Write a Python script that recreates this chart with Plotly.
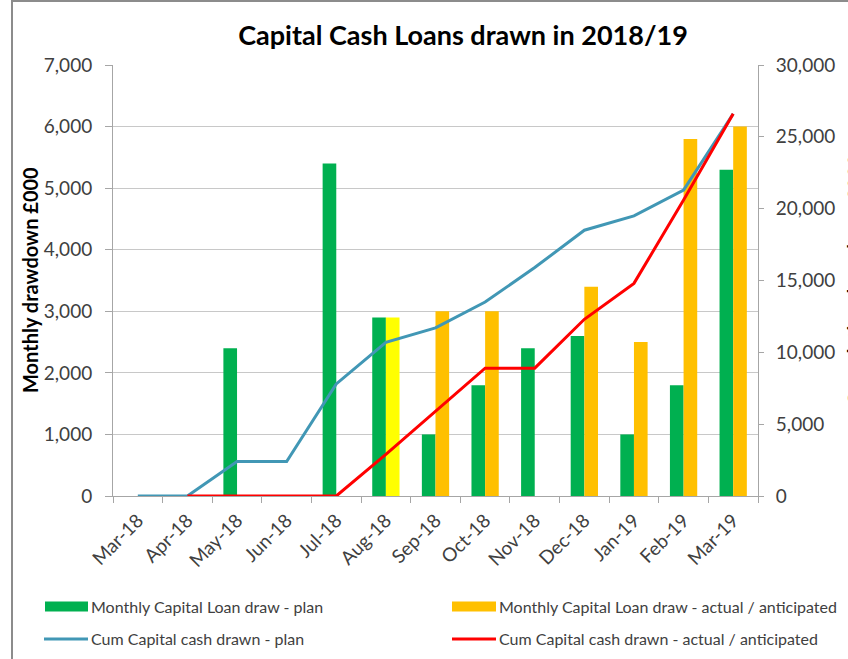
import plotly.graph_objects as go

months = ["Mar-18", "Apr-18", "May-18", "Jun-18", "Jul-18", "Aug-18", "Sep-18",
          "Oct-18", "Nov-18", "Dec-18", "Jan-19", "Feb-19", "Mar-19"]
plan_monthly = [0, 0, 2400, 0, 5400, 2900, 1000, 1800, 2400, 2600, 1000, 1800, 5300]
actual_monthly = [0, 0, 0, 0, 0, 2900, 3000, 3000, 0, 3400, 2500, 5800, 6000]
actual_colors = ["#FFC000"] * 5 + ["#FFFF00"] + ["#FFC000"] * 7
cum_plan = [0, 0, 2400, 2400, 7800, 10700, 11700, 13500, 15900, 18500, 19500, 21300, 26600]
cum_actual = [None, 0, 0, 0, 0, 2900, 5900, 8900, 8900, 12300, 14800, 20600, 26600]

left_ticks = list(range(0, 7001, 1000))
right_ticks = list(range(0, 30001, 5000))

W, H = 848, 659
ML, MR, MT, MB = 113, 90, 65, 163
PW, PH = W - ML - MR, H - MT - MB

def px(x):
    return (x - ML) / PW

def py(y):
    return (H - MB - y) / PH

FONT = "Lato"
GREEN, ORANGE, BLUE, RED = "#00B050", "#FFC000", "#4197B5", "#FF0000"

fig = go.Figure()
fig.add_trace(go.Bar(x=months, y=plan_monthly, name="Monthly Capital Loan draw - plan",
                     marker=dict(color=GREEN, line=dict(width=0)), yaxis="y"))
fig.add_trace(go.Bar(x=months, y=actual_monthly, name="Monthly Capital Loan draw - actual / anticipated",
                     marker=dict(color=actual_colors, line=dict(width=0)), yaxis="y"))
fig.add_trace(go.Scatter(x=months, y=cum_plan, name="Cum Capital cash drawn - plan", mode="lines",
                         line=dict(color=BLUE, width=3), yaxis="y2"))
fig.add_trace(go.Scatter(x=months, y=cum_actual, name="Cum Capital cash drawn - actual / anticipated",
                         mode="lines", line=dict(color=RED, width=3), yaxis="y2"))

shapes = [
    # chart frame (left and top)
    dict(type="line", xref="paper", yref="paper", x0=px(12), x1=px(12), y0=py(0), y1=py(H),
         line=dict(color="#8c8c8c", width=2)),
    dict(type="line", xref="paper", yref="paper", x0=px(12), x1=px(W), y0=py(1), y1=py(1),
         line=dict(color="#8c8c8c", width=2)),
    # legend symbols
    dict(type="rect", xref="paper", yref="paper", x0=px(45), x1=px(88), y0=py(601.5), y1=py(611.5),
         fillcolor=GREEN, line=dict(width=0)),
    dict(type="rect", xref="paper", yref="paper", x0=px(452), x1=px(496), y0=py(601.5), y1=py(611.5),
         fillcolor=ORANGE, line=dict(width=0)),
    dict(type="line", xref="paper", yref="paper", x0=px(44), x1=px(88), y0=py(639), y1=py(639),
         line=dict(color=BLUE, width=3)),
    dict(type="line", xref="paper", yref="paper", x0=px(452), x1=px(496), y0=py(639), y1=py(639),
         line=dict(color=RED, width=3)),
]

legend_texts = [
    ("Monthly Capital Loan draw - plan", 89, 606),
    ("Monthly Capital Loan draw - actual / anticipated", 497, 606),
    ("Cum Capital cash drawn - plan", 89, 638),
    ("Cum Capital cash drawn - actual / anticipated", 497, 638),
]
annotations = [
    dict(text=t, x=px(x), y=py(y), xref="paper", yref="paper", xanchor="left", yanchor="middle",
         showarrow=False, font=dict(family=FONT, size=16, color="#404040"))
    for t, x, y in legend_texts
]
annotations.append(dict(text="<b>Monthly drawdown £000</b>", x=px(30), y=py(280), xref="paper",
                        yref="paper", xanchor="center", yanchor="middle", textangle=-90,
                        showarrow=False, font=dict(family=FONT, size=20, color="#000000")))
annotations.append(dict(text="<b>Cumulative drawdown £000</b>", x=px(855), y=py(280), xref="paper",
                        yref="paper", xanchor="center", yanchor="middle", textangle=-90,
                        showarrow=False, font=dict(family=FONT, size=20, color="#000000")))

yfont = dict(family=FONT, size=19, color="#404040")
xfont = dict(family=FONT, size=19, color="#404040")

fig.update_layout(
    width=W, height=H,
    margin=dict(l=ML, r=MR, t=MT, b=MB),
    paper_bgcolor="white", plot_bgcolor="white",
    barmode="group", bargap=0.45, bargroupgap=0,
    showlegend=False,
    title=dict(text="<b>Capital Cash Loans drawn in 2018/19</b>", x=463 / W, xref="container",
               xanchor="center", y=1 - 36 / H, yref="container", yanchor="middle",
               font=dict(family=FONT, size=27, color="#000000")),
    xaxis=dict(type="category", tickson="boundaries", ticks="outside", ticklen=6,
               tickcolor="#a6a6a6", showline=True, linecolor="#a6a6a6", linewidth=1,
               tickangle=-45, tickfont=xfont, showgrid=False, range=[-0.5, 12.5],
               ticklabelstandoff=5),
    yaxis=dict(range=[0, 7000], tickvals=left_ticks, tickformat=",", ticks="outside", ticklen=7,
               tickcolor="#a6a6a6", showline=True, linecolor="#a6a6a6", linewidth=1,
               showgrid=True, gridcolor="#c8c8c8", gridwidth=1, zeroline=False,
               tickfont=yfont, ticklabelstandoff=9),
    yaxis2=dict(range=[0, 30000], tickvals=right_ticks, tickformat=",", ticks="outside", ticklen=5,
                tickcolor="#a6a6a6", showline=True, linecolor="#a6a6a6", linewidth=1,
                overlaying="y", side="right", showgrid=False, zeroline=False,
                tickfont=yfont, ticklabelstandoff=8),
    shapes=shapes,
    annotations=annotations,
)

fig.write_html("out.html")
